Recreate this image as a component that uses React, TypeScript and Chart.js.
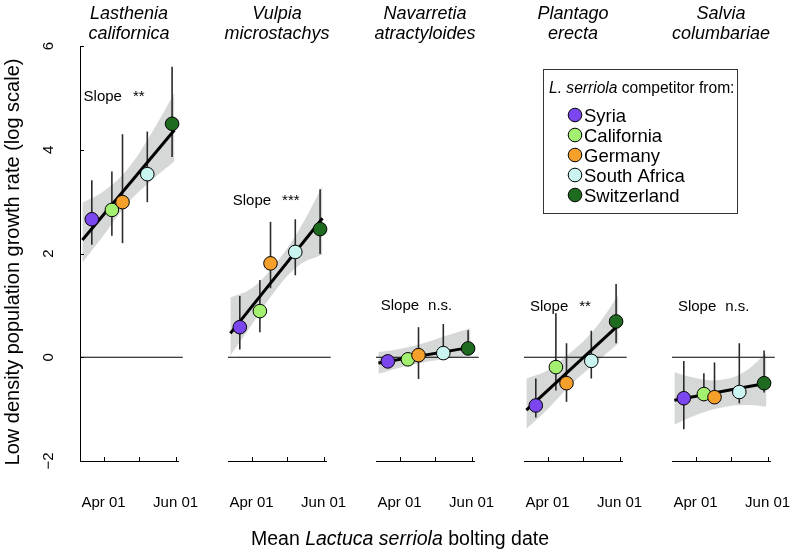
import React, { useEffect, useRef } from 'react';
import { Chart, registerables } from 'chart.js';

Chart.register(...registerables);

const FONT = "'Liberation Sans', Arial, Helvetica, sans-serif";

// ---------------- data ----------------
const countries = ['Syria', 'California', 'Germany', 'South Africa', 'Switzerland'];
const countryColors = ['#7c46ee', '#a3ef6f', '#f5a02a', '#caf4ef', '#1e6a1e'];
// mean bolting date of each competitor, in days after Apr 01
const boltingDay = [-10, 7, 16, 37, 58];

const speciesGenus = ['Lasthenia', 'Vulpia', 'Navarretia', 'Plantago', 'Salvia'];
const speciesEpithet = ['californica', 'microstachys', 'atractyloides', 'erecta', 'columbariae'];
const slopeSignif = ['**', '***', 'n.s.', '**', 'n.s.'];

const xTickValues = [0, 30, 61];
const xTickLabels = ['Apr 01', '', 'Jun 01'];
const yTickValues = [-2, 0, 2, 4, 6];

const fitX = [-18, 60];
const bandX = [-18, 0, 20, 40, 60];

const lastheniaMean = [2.66, 2.84, 2.99, 3.53, 4.5];
const lastheniaLow = [2.17, 2.34, 2.2, 2.99, 3.86];
const lastheniaHigh = [3.41, 3.58, 4.3, 4.35, 5.6];
const lastheniaFit = [2.26, 4.38];
const lastheniaBandUpper = [2.98, 3.2, 3.62, 4.3, 5.1];
const lastheniaBandLower = [1.82, 2.35, 2.96, 3.4, 3.78];

const vulpiaMean = [0.58, 0.89, 1.81, 2.03, 2.47];
const vulpiaLow = [0.15, 0.48, 1.33, 1.58, 1.99];
const vulpiaHigh = [1.18, 1.49, 2.61, 2.66, 3.24];
const vulpiaFit = [0.46, 2.68];
const vulpiaBandUpper = [1.15, 1.33, 1.8, 2.45, 3.3];
const vulpiaBandLower = [0.03, 0.62, 1.28, 1.77, 1.98];

const navarretiaMean = [-0.08, -0.04, 0.04, 0.08, 0.17];
const navarretiaLow = [-0.16, -0.12, -0.42, 0.0, 0.05];
const navarretiaHigh = [0.0, 0.04, 0.58, 0.64, 0.52];
const navarretiaFit = [-0.11, 0.19];
const navarretiaBandUpper = [0.1, 0.16, 0.27, 0.42, 0.56];
const navarretiaBandLower = [-0.32, -0.2, -0.1, -0.03, 0.03];

const plantagoMean = [-0.93, -0.19, -0.5, -0.07, 0.69];
const plantagoLow = [-1.16, -0.64, -0.86, -0.41, 0.27];
const plantagoHigh = [-0.41, 0.85, 0.27, 0.51, 1.41];
const plantagoFit = [-1.02, 0.62];
const plantagoBandUpper = [-0.41, -0.25, 0.1, 0.55, 1.2];
const plantagoBandLower = [-1.38, -1.0, -0.52, -0.12, 0.27];

const salviaMean = [-0.79, -0.71, -0.77, -0.67, -0.5];
const salviaLow = [-1.39, -0.85, -0.88, -0.89, -0.68];
const salviaHigh = [-0.07, -0.31, -0.1, 0.27, 0.13];
const salviaFit = [-0.83, -0.5];
const salviaBandUpper = [-0.29, -0.4, -0.44, -0.3, 0.08];
const salviaBandLower = [-1.3, -1.12, -0.98, -0.92, -0.95];

const panelMeans = [lastheniaMean, vulpiaMean, navarretiaMean, plantagoMean, salviaMean];
const panelLows = [lastheniaLow, vulpiaLow, navarretiaLow, plantagoLow, salviaLow];
const panelHighs = [lastheniaHigh, vulpiaHigh, navarretiaHigh, plantagoHigh, salviaHigh];
const panelFits = [lastheniaFit, vulpiaFit, navarretiaFit, plantagoFit, salviaFit];
const panelBandUpper = [lastheniaBandUpper, vulpiaBandUpper, navarretiaBandUpper, plantagoBandUpper, salviaBandUpper];
const panelBandLower = [lastheniaBandLower, vulpiaBandLower, navarretiaBandLower, plantagoBandLower, salviaBandLower];

// ---------------- layout ----------------
const CW = 793;
const CH = 553;
const X_MIN = -20;
const X_MAX = 63;
const Y_MIN = -2;
const Y_MAX = 6;
const PANEL_LEFT = [80, 228, 376, 524, 672];
const PANEL_W = 98;
const AREA_TOP = 46;
const AREA_BOTTOM = 461;
const Y_AXIS_W = 80;

// annotation anchor (data units) for the "Slope" labels
const slopeLabelX = [-17, -16, -16, -15, -15];
const slopeLabelY = [4.94, 2.93, 0.91, 0.89, 0.89];

function drawMixed(ctx: CanvasRenderingContext2D, parts: [string, boolean][], size: number, x: number, y: number, align: 'left' | 'center') {
  let total = 0;
  const widths = parts.map(([t, it]) => {
    ctx.font = `${it ? 'italic ' : ''}${size}px ${FONT}`;
    const w = ctx.measureText(t).width;
    total += w;
    return w;
  });
  let cx = align === 'center' ? x - total / 2 : x;
  ctx.textAlign = 'left';
  parts.forEach(([t, it], k) => {
    ctx.font = `${it ? 'italic ' : ''}${size}px ${FONT}`;
    ctx.fillText(t, cx, y);
    cx += widths[k];
  });
}

function makeDecor(i: number) {
  return {
    id: 'decor' + i,
    afterDraw(chart: any) {
      const { ctx, chartArea, scales } = chart;
      const x = scales.x;
      const y = scales.y;
      ctx.save();
      ctx.strokeStyle = '#000';
      ctx.lineWidth = 1;
      // inward tick marks
      xTickValues.forEach((v) => {
        const px = Math.round(x.getPixelForValue(v)) + 0.5;
        ctx.beginPath();
        ctx.moveTo(px, chartArea.bottom);
        ctx.lineTo(px, chartArea.bottom - 4);
        ctx.stroke();
      });
      if (i === 0) {
        yTickValues.forEach((v) => {
          const py = Math.round(y.getPixelForValue(v)) + 0.5;
          ctx.beginPath();
          ctx.moveTo(chartArea.left, py);
          ctx.lineTo(chartArea.left + 4, py);
          ctx.stroke();
        });
      }
      ctx.fillStyle = '#000';
      ctx.textBaseline = 'alphabetic';
      // panel title
      const cx = (chartArea.left + chartArea.right) / 2;
      ctx.font = `italic 18px ${FONT}`;
      ctx.textAlign = 'center';
      ctx.fillText(speciesGenus[i], cx, 19);
      ctx.fillText(speciesEpithet[i], cx, 39);
      // slope label
      ctx.font = `15px ${FONT}`;
      ctx.textAlign = 'left';
      const sx = x.getPixelForValue(slopeLabelX[i]);
      const sy = y.getPixelForValue(slopeLabelY[i]);
      ctx.fillText('Slope', sx, sy);
      const w = ctx.measureText('Slope').width;
      ctx.fillText(slopeSignif[i], sx + w + (slopeSignif[i] === 'n.s.' ? 9 : 11), sy);

      if (i === 0) {
        // y axis title
        ctx.save();
        ctx.translate(19, 262);
        ctx.rotate(-Math.PI / 2);
        ctx.font = `20px ${FONT}`;
        ctx.textAlign = 'center';
        ctx.fillText('Low density population growth rate (log scale)', 0, 0);
        ctx.restore();
        // x axis title
        drawMixed(ctx, [['Mean ', false], ['Lactuca serriola', true], [' bolting date', false]], 19.5, 400, 545, 'center');
        // legend
        ctx.strokeStyle = '#333';
        ctx.lineWidth = 1;
        ctx.strokeRect(543.5, 69.5, 194, 144);
        drawMixed(ctx, [['L. serriola', true], [' competitor from:', false]], 15.6, 549, 93, 'left');
        countries.forEach((c, k) => {
          const ly = 115 + k * 20;
          ctx.beginPath();
          ctx.arc(575, ly, 6.8, 0, Math.PI * 2);
          ctx.fillStyle = countryColors[k];
          ctx.fill();
          ctx.strokeStyle = '#000';
          ctx.stroke();
          ctx.fillStyle = '#000';
          ctx.font = `18.5px ${FONT}`;
          ctx.textAlign = 'left';
          ctx.fillText(c, 584, ly + 6.5);
        });
      }
      ctx.restore();
    },
  };
}

function makeConfig(i: number): any {
  const means = panelMeans[i];
  const lows = panelLows[i];
  const highs = panelHighs[i];
  const fit = panelFits[i];
  const datasets: any[] = [];
  datasets.push({
    type: 'scatter',
    data: boltingDay.map((d, k) => ({ x: d, y: means[k] })),
    pointRadius: 6.8,
    pointBackgroundColor: countryColors,
    pointBorderColor: '#000',
    pointBorderWidth: 1,
    clip: false,
    order: 0,
  });
  datasets.push({
    type: 'line',
    data: fitX.map((d, k) => ({ x: d, y: fit[k] })),
    borderColor: '#000',
    borderWidth: 3,
    pointRadius: 0,
    fill: false,
    clip: false,
    order: 1,
  });
  boltingDay.forEach((d, k) => {
    datasets.push({
      type: 'line',
      data: [{ x: d, y: lows[k] }, { x: d, y: highs[k] }],
      borderColor: '#2a2a2a',
      borderWidth: 1.6,
      pointRadius: 0,
      fill: false,
      clip: false,
      order: 2,
    });
  });
  datasets.push({
    type: 'line',
    data: [{ x: X_MIN, y: 0 }, { x: X_MAX + 4, y: 0 }],
    borderColor: '#000',
    borderWidth: 1.2,
    pointRadius: 0,
    fill: false,
    clip: false,
    order: 3,
  });
  const upIdx = datasets.length;
  datasets.push({
    type: 'line',
    data: bandX.map((d, k) => ({ x: d, y: panelBandUpper[i][k] })),
    borderColor: 'rgba(0,0,0,0)',
    borderWidth: 1,
    pointRadius: 0,
    tension: 0.4,
    fill: false,
    order: 4,
  });
  datasets.push({
    type: 'line',
    data: bandX.map((d, k) => ({ x: d, y: panelBandLower[i][k] })),
    borderColor: 'rgba(0,0,0,0)',
    borderWidth: 1,
    pointRadius: 0,
    tension: 0.4,
    fill: upIdx,
    backgroundColor: 'rgb(214,216,216)',
    order: 4,
  });

  const right = PANEL_LEFT[i] + PANEL_W;
  return {
    type: 'scatter',
    data: { datasets },
    plugins: [makeDecor(i)],
    options: {
      responsive: false,
      animation: false,
      devicePixelRatio: 1,
      events: [],
      layout: {
        padding: { left: i === 0 ? 0 : PANEL_LEFT[i], right: CW - right, top: AREA_TOP, bottom: 0 },
      },
      plugins: { legend: { display: false }, tooltip: { enabled: false }, title: { display: false } },
      scales: {
        x: {
          type: 'linear',
          min: X_MIN,
          max: X_MAX,
          afterBuildTicks: (s: any) => {
            s.ticks = xTickValues.map((v) => ({ value: v }));
          },
          afterFit: (s: any) => {
            s.height = CH - AREA_BOTTOM;
          },
          ticks: {
            autoSkip: false,
            maxRotation: 0,
            minRotation: 0,
            padding: 1,
            color: '#000',
            font: { family: FONT, size: 15 },
            callback: (_v: any, idx: number) => xTickLabels[idx],
          },
          grid: { display: false, drawTicks: true, tickLength: 32 },
          border: { display: true, color: '#000', width: 1 },
        },
        y: {
          type: 'linear',
          display: i === 0,
          min: Y_MIN,
          max: Y_MAX,
          afterBuildTicks: (s: any) => {
            s.ticks = yTickValues.map((v) => ({ value: v }));
          },
          afterFit: (s: any) => {
            s.width = i === 0 ? Y_AXIS_W : 0;
          },
          ticks: {
            minRotation: 90,
            maxRotation: 90,
            crossAlign: 'center',
            padding: 23,
            color: '#000',
            font: { family: FONT, size: 15 },
            callback: (v: any) => (v < 0 ? '\u2212' + Math.abs(v) : String(v)),
          },
          grid: { display: false, drawTicks: false },
          border: { display: true, color: '#000', width: 1 },
        },
      },
    },
  };
}

export default function App() {
  const refs = useRef<(HTMLCanvasElement | null)[]>([]);
  useEffect(() => {
    const charts = PANEL_LEFT.map((_, i) => new Chart(refs.current[i] as HTMLCanvasElement, makeConfig(i)));
    return () => charts.forEach((c) => c.destroy());
  }, []);
  return (
    <div style={{ position: 'absolute', left: 0, top: 0, width: CW, height: CH, background: '#fff' }}>
      {PANEL_LEFT.map((_, i) => (
        <canvas
          key={i}
          ref={(el) => {
            refs.current[i] = el;
          }}
          width={CW}
          height={CH}
          style={{ position: 'absolute', left: 0, top: 0, width: CW, height: CH }}
        />
      ))}
    </div>
  );
}
